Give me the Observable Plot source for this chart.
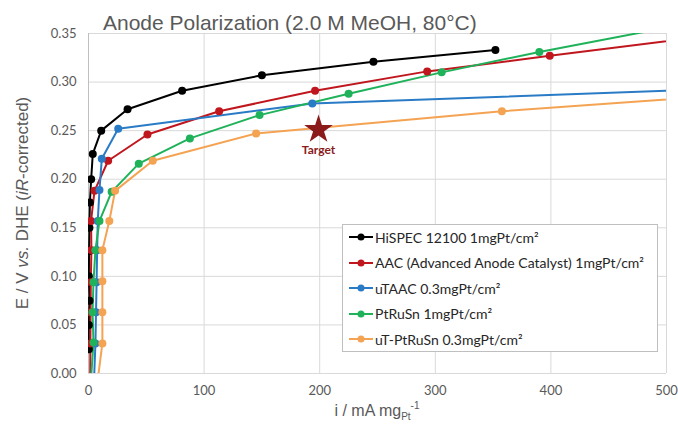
<!DOCTYPE html>
<html>
<head>
<meta charset="utf-8">
<script src="https://cdn.jsdelivr.net/npm/d3@7"></script>
<script src="https://cdn.jsdelivr.net/npm/@observablehq/plot@0.6"></script>
<style>
  html, body { margin: 0; padding: 0; background: #fff; }
  #wrap { position: relative; width: 678px; height: 428px; font-family: "Liberation Sans", Arial, sans-serif; }
  #wrap svg.plot { position: absolute; left: 0; top: 0; }
  #legend { position: absolute; left: 342px; top: 224px; width: 314px; height: 126px; border: 1px solid #bfbfbf; background: #fff; box-sizing: content-box; }
  .row { position: absolute; left: 6px; height: 20px; display: flex; align-items: center; font-family: Lato, "Open Sans", sans-serif; font-size: 14px; color: #262626; white-space: nowrap; }
  .row svg { margin-right: 2px; }
</style>
</head>
<body>
<div id="wrap"></div>
<script>
// ---- data ----
const seriesNames = [
  "HiSPEC 12100 1mgPt/cm²",
  "AAC (Advanced Anode Catalyst) 1mgPt/cm²",
  "uTAAC 0.3mgPt/cm²",
  "PtRuSn 1mgPt/cm²",
  "uT-PtRuSn 0.3mgPt/cm²"
];
const seriesColors = ["#000000", "#c0161e", "#2a7bc6", "#1fb25a", "#f4a352"];

const hispecX = [0.3, 0.3, 0.9, 0.3, 0.5, 0.8, 1.2, 2.3, 3.7, 11, 33.8, 81, 150, 246.5, 352];
const hispecY = [0.025, 0.050, 0.075, 0.100, 0.126, 0.150, 0.176, 0.200, 0.226, 0.250, 0.272, 0.291, 0.307, 0.321, 0.333];

const aacX = [1.5, 1.6, 1.8, 2.0, 2.5, 2.2, 5.2, 17, 51, 113, 196, 293, 399, 540];
const aacY = [0.000, 0.031, 0.063, 0.094, 0.127, 0.157, 0.188, 0.219, 0.246, 0.270, 0.291, 0.311, 0.327, 0.348];

const utaacX = [5, 6, 6.5, 7, 7.5, 8, 9.5, 11.5, 25.7, 193.6, 540];
const utaacY = [0.000, 0.031, 0.063, 0.094, 0.127, 0.157, 0.189, 0.221, 0.252, 0.278, 0.2927];

const ptrusnX = [2.5, 4.3, 3.5, 4.3, 6, 9.5, 20, 43.5, 87.7, 148, 225, 305.5, 390, 500];
const ptrusnY = [0.000, 0.032, 0.063, 0.094, 0.127, 0.157, 0.187, 0.216, 0.242, 0.266, 0.288, 0.310, 0.331, 0.356];

const utptrusnX = [8.7, 12, 12, 12, 12, 18, 23, 55.6, 145, 357.6, 540];
const utptrusnY = [0.000, 0.031, 0.063, 0.095, 0.127, 0.157, 0.188, 0.219, 0.247, 0.270, 0.2855];

// which points carry a marker (the line ends at y=0 and the run-off beyond the frame have none)
const markerFrom = [0, 1, 1, 1, 1];
const markerTo = [15, 13, 10, 13, 10];

const targetX = [199];
const targetY = [0.251];
const targetLabel = ["Target"];

const xTicks = [0, 100, 200, 300, 400, 500];
const yTicks = [0, 0.05, 0.10, 0.15, 0.20, 0.25, 0.30, 0.35];

const titleText = "Anode Polarization (2.0 M MeOH, 80°C)";

// ---- build tidy table ----
const allX = [hispecX, aacX, utaacX, ptrusnX, utptrusnX];
const allY = [hispecY, aacY, utaacY, ptrusnY, utptrusnY];
const rows = [];
allX.forEach((xs, s) => xs.forEach((x, i) => rows.push({
  series: seriesNames[s], x, y: allY[s][i],
  marker: i >= markerFrom[s] && i < markerTo[s]
})));
const targets = targetX.map((x, i) => ({x, y: targetY[i], label: targetLabel[i]}));

const W = 678, H = 428;
const colorScale = {domain: seriesNames, range: seriesColors};

const chart = Plot.plot({
  width: W, height: H,
  marginLeft: 88, marginRight: 12, marginTop: 33, marginBottom: 55,
  style: {fontFamily: "Lato, 'Open Sans', sans-serif", fontSize: "13px", color: "#595959", background: "transparent"},
  x: {domain: [0, 500], ticks: xTicks, tickSize: 0, tickPadding: 12, label: null, tickFormat: d3.format("d")},
  y: {domain: [0, 0.35], ticks: yTicks, tickSize: 0, tickPadding: 12, label: null, tickFormat: d3.format(".2f")},
  color: colorScale,
  marks: [
    Plot.gridX(xTicks, {stroke: "#d9d9d9", strokeOpacity: 1, strokeWidth: 1}),
    Plot.gridY(yTicks, {stroke: "#d9d9d9", strokeOpacity: 1, strokeWidth: 1}),
    Plot.ruleX([0], {stroke: "#bfbfbf"}),
    Plot.line(rows, {x: "x", y: "y", z: "series", stroke: "series", strokeWidth: 2, clip: true}),
    Plot.dot(rows.filter(d => d.marker), {x: "x", y: "y", fill: "series", r: 4, stroke: "none", clip: true}),
    Plot.dot(targets, {x: "x", y: "y", symbol: "star", r: 9, fill: "#8b1a1a", stroke: "none"}),
    Plot.text(targets, {x: "x", y: "y", text: "label", dy: 20, fill: "#8b1a1a", fontWeight: "bold", fontSize: 12, fontFamily: "Lato, sans-serif"})
  ]
});
chart.classList.add("plot");
document.getElementById("wrap").appendChild(chart);

const svg = d3.select(chart);
// title
svg.append("text")
  .attr("x", 103).attr("y", 30)
  .attr("text-anchor", "start")
  .attr("font-family", "'Liberation Sans', Arial, sans-serif")
  .attr("font-size", 21).attr("fill", "#595959")
  .text(titleText);

// y-axis label
const yl = svg.append("text")
  .attr("transform", "translate(28,203) rotate(-90)")
  .attr("text-anchor", "middle")
  .attr("font-family", "'Liberation Sans', Arial, sans-serif")
  .attr("font-size", 17).attr("fill", "#595959");
yl.append("tspan").text("E / V ");
yl.append("tspan").attr("font-style", "italic").text("vs.");
yl.append("tspan").text(" DHE (");
yl.append("tspan").attr("font-style", "italic").text("iR");
yl.append("tspan").text("-corrected)");

// x-axis label
const xl = svg.append("text")
  .attr("x", 377).attr("y", 416)
  .attr("text-anchor", "middle")
  .attr("font-family", "'Liberation Sans', Arial, sans-serif")
  .attr("font-size", 16).attr("fill", "#595959");
xl.append("tspan").text("i / mA mg");
xl.append("tspan").attr("font-size", 10).attr("dy", 4).text("Pt");
xl.append("tspan").attr("font-size", 10).attr("dy", -11).text("-1");

// legend
const leg = document.createElement("div");
leg.id = "legend";
seriesNames.forEach((name, i) => {
  const r = document.createElement("div");
  r.className = "row";
  r.style.top = (2 + i * 25.5) + "px";
  r.innerHTML = `<svg width="24" height="10"><line x1="0" x2="24" y1="5" y2="5" stroke="${seriesColors[i]}" stroke-width="2"/><circle cx="12" cy="5" r="3.5" fill="${seriesColors[i]}"/></svg><span>${name}</span>`;
  leg.appendChild(r);
});
document.getElementById("wrap").appendChild(leg);
</script>
</body>
</html>
